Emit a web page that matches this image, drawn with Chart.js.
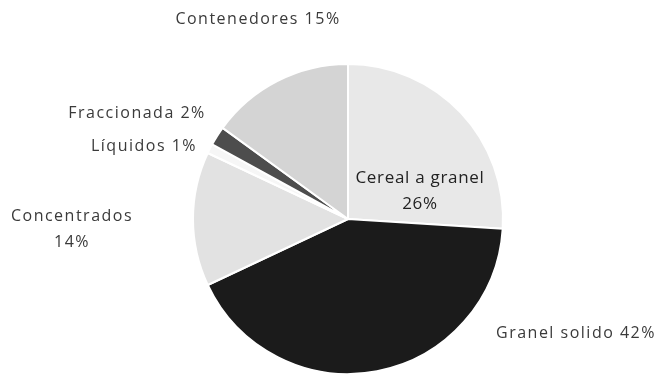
<!DOCTYPE html>
<html>
<head>
<meta charset="utf-8">
<script src="https://cdn.jsdelivr.net/npm/chart.js@4"></script>
<style>
  html, body { margin: 0; padding: 0; background: #ffffff; }
  #wrap { width: 656px; height: 375px; position: relative; }
</style>
</head>
<body>
<div id="wrap"><canvas id="pie"></canvas></div>
<script>
// Tráfico por tipo de carga (%)
const categories = ["Cereal a granel", "Granel solido", "Concentrados", "Líquidos", "Fraccionada", "Contenedores"];
const shares = [26, 42, 14, 1, 2, 15];
const sliceColors = ["#e8e8e8", "#1b1b1b", "#e2e2e2", "#f6f6f6", "#4d4d4d", "#d4d4d4"];

// label text lines and where each one sits
const labelSpots = [
  { x: 420, y: 178, size: 17, color: "#222222", spacing: 0.7, lines: 2 },
  { x: 576, y: 333, size: 16, color: "#3a3a3a", spacing: 1.5, lines: 1 },
  { x: 72, y: 216, size: 16, color: "#3a3a3a", spacing: 1.5, lines: 2 },
  { x: 144, y: 146, size: 16, color: "#3a3a3a", spacing: 1.5, lines: 1 },
  { x: 137, y: 113, size: 16, color: "#3a3a3a", spacing: 1.5, lines: 1 },
  { x: 258, y: 19, size: 16, color: "#3a3a3a", spacing: 1.5, lines: 1 }
];

const sliceLabels = {
  id: "sliceLabels",
  afterDraw(chart) {
    const ctx = chart.ctx;
    const values = chart.data.datasets[0].data;
    ctx.save();
    ctx.textAlign = "center";
    ctx.textBaseline = "middle";
    chart.data.labels.forEach((name, i) => {
      const spot = labelSpots[i];
      const pct = values[i] + "%";
      ctx.font = spot.size + "px 'Open Sans', sans-serif";
      ctx.fillStyle = spot.color;
      ctx.letterSpacing = spot.spacing + "px";
      if (spot.lines === 2) {
        ctx.fillText(name, spot.x, spot.y);
        ctx.fillText(pct, spot.x, spot.y + 26);
      } else {
        ctx.fillText(name + " " + pct, spot.x, spot.y);
      }
    });
    ctx.restore();
  }
};

new Chart(document.getElementById("pie"), {
  type: "pie",
  data: {
    labels: categories,
    datasets: [{
      data: shares,
      backgroundColor: sliceColors,
      borderColor: "#ffffff",
      borderWidth: 2
    }]
  },
  options: {
    responsive: true,
    maintainAspectRatio: false,
    animation: false,
    layout: { padding: { top: 63, bottom: 0, left: 40, right: 0 } },
    plugins: {
      legend: { display: false },
      tooltip: { enabled: false }
    }
  },
  plugins: [sliceLabels]
});
</script>
</body>
</html>
